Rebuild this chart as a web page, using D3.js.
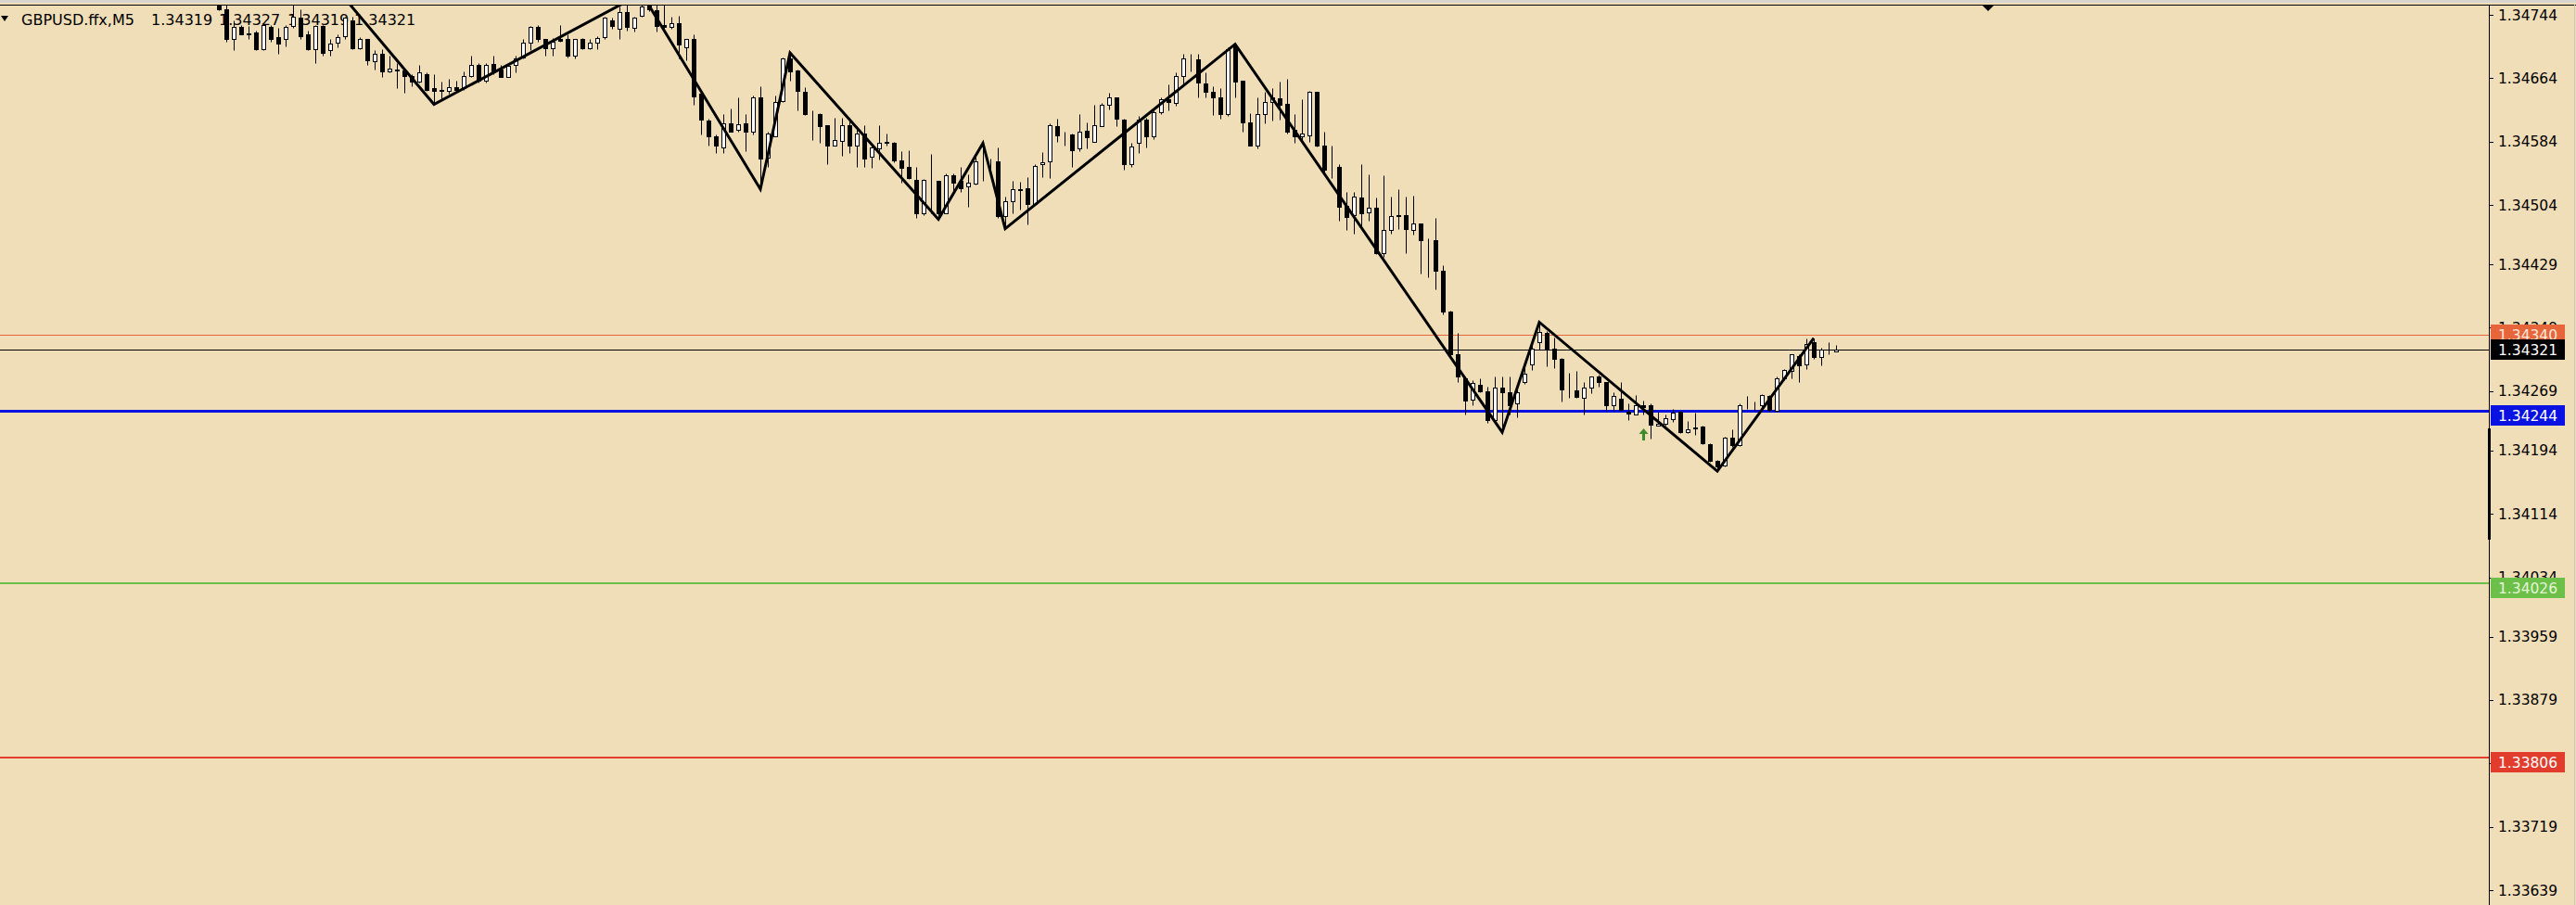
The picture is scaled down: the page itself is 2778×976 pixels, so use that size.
<!DOCTYPE html>
<html><head><meta charset="utf-8">
<script src="https://cdn.jsdelivr.net/npm/d3@7"></script>
<style>html,body{margin:0;padding:0;background:#F0DEB8;overflow:hidden}</style>
</head><body><svg id="c" width="2778" height="976"></svg>
<script>
const symbolTitle = "GBPUSD.ffx,M5";
const headerValues = ["1.34319","1.34327","1.34319","1.34321"];
const tickValues = [1.34744,1.34664,1.34584,1.34504,1.34429,1.34349,1.34269,1.34194,1.34114,1.34034,1.33959,1.33879,1.33799,1.33719,1.33639];

const open = [1.34761,1.34751,1.34713,1.34729,1.34721,1.34722,1.34701,1.34729,1.34716,1.34713,1.34730,1.34740,1.34719,1.34701,1.34730,1.34699,1.34709,1.34717,1.34737,1.34702,
1.34713,1.34685,1.34695,1.34673,1.34675,1.34674,1.34667,1.34660,1.34669,1.34652,1.34649,1.34648,1.34653,1.34652,1.34667,1.34681,1.34661,1.34682,1.34675,1.34666,
1.34681,1.34690,1.34709,1.34729,1.34713,1.34702,1.34713,1.34713,1.34692,1.34713,1.34702,1.34709,1.34716,1.34737,1.34726,1.34747,1.34728,1.34743,1.34756,1.34750,
1.34731,1.34729,1.34733,1.34703,1.34713,1.34644,1.34611,1.34591,1.34577,1.34607,1.34599,1.34607,1.34597,1.34640,1.34564,1.34591,1.34635,1.34689,1.34674,1.34647,
1.34618,1.34619,1.34605,1.34579,1.34585,1.34605,1.34579,1.34594,1.34565,1.34576,1.34584,1.34583,1.34560,1.34552,1.34536,1.34493,1.34536,1.34535,1.34494,1.34541,
1.34534,1.34527,1.34531,1.34558,1.34558,1.34559,1.34490,1.34509,1.34524,1.34525,1.34505,1.34555,1.34559,1.34604,1.34592,1.34593,1.34575,1.34598,1.34584,1.34604,
1.34630,1.34640,1.34612,1.34555,1.34583,1.34612,1.34591,1.34621,1.34638,1.34633,1.34667,1.34689,1.34688,1.34657,1.34647,1.34640,1.34619,1.34704,1.34661,1.34608,
1.34579,1.34619,1.34634,1.34639,1.34632,1.34599,1.34591,1.34592,1.34647,1.34579,1.34550,1.34552,1.34503,1.34491,1.34513,1.34495,1.34500,1.34443,1.34472,1.34490,
1.34491,1.34473,1.34481,1.34461,1.34460,1.34421,1.34370,1.34315,1.34285,1.34258,1.34277,1.34269,1.34233,1.34273,1.34268,1.34254,1.34280,1.34303,1.34331,1.34343,
1.34323,1.34310,1.34273,1.34270,1.34261,1.34274,1.34288,1.34280,1.34251,1.34259,1.34243,1.34240,1.34251,1.34251,1.34226,1.34228,1.34234,1.34243,1.34217,1.34223,
1.34224,1.34202,1.34181,1.34175,1.34210,1.34201,1.34251,1.34251,1.34251,1.34263,1.34244,1.34285,1.34295,1.34313,1.34303,1.34331,1.34312,1.34322,1.34319];

const high = [1.34767,1.34757,1.34737,1.34731,1.34730,1.34724,1.34734,1.34731,1.34728,1.34731,1.34763,1.34751,1.34724,1.34731,1.34731,1.34713,1.34720,1.34742,1.34742,1.34716,
1.34714,1.34699,1.34701,1.34693,1.34683,1.34675,1.34669,1.34681,1.34672,1.34669,1.34660,1.34663,1.34661,1.34673,1.34692,1.34683,1.34683,1.34692,1.34681,1.34683,
1.34692,1.34713,1.34730,1.34731,1.34714,1.34715,1.34731,1.34719,1.34714,1.34715,1.34714,1.34717,1.34742,1.34741,1.34754,1.34757,1.34742,1.34771,1.34758,1.34757,
1.34757,1.34742,1.34743,1.34714,1.34720,1.34646,1.34613,1.34593,1.34619,1.34626,1.34640,1.34619,1.34642,1.34654,1.34596,1.34642,1.34690,1.34696,1.34675,1.34653,
1.34623,1.34620,1.34605,1.34614,1.34614,1.34611,1.34603,1.34605,1.34579,1.34605,1.34594,1.34584,1.34572,1.34573,1.34552,1.34537,1.34568,1.34535,1.34544,1.34544,
1.34552,1.34543,1.34570,1.34582,1.34562,1.34577,1.34514,1.34534,1.34533,1.34539,1.34555,1.34571,1.34607,1.34613,1.34597,1.34594,1.34619,1.34608,1.34631,1.34633,
1.34646,1.34640,1.34613,1.34582,1.34616,1.34614,1.34625,1.34640,1.34656,1.34671,1.34695,1.34695,1.34695,1.34671,1.34654,1.34652,1.34703,1.34707,1.34661,1.34620,
1.34640,1.34647,1.34652,1.34660,1.34663,1.34619,1.34638,1.34648,1.34647,1.34596,1.34579,1.34555,1.34521,1.34520,1.34556,1.34543,1.34513,1.34542,1.34514,1.34524,
1.34515,1.34516,1.34481,1.34462,1.34488,1.34428,1.34371,1.34342,1.34287,1.34283,1.34285,1.34275,1.34287,1.34287,1.34287,1.34277,1.34306,1.34330,1.34356,1.34345,
1.34337,1.34311,1.34292,1.34295,1.34280,1.34288,1.34290,1.34281,1.34268,1.34280,1.34253,1.34264,1.34257,1.34253,1.34243,1.34240,1.34246,1.34244,1.34231,1.34242,
1.34226,1.34203,1.34182,1.34211,1.34221,1.34253,1.34263,1.34256,1.34265,1.34264,1.34287,1.34297,1.34315,1.34315,1.34335,1.34336,1.34324,1.34331,1.34327];

const low = [1.34750,1.34710,1.34699,1.34719,1.34713,1.34700,1.34700,1.34710,1.34695,1.34704,1.34728,1.34714,1.34699,1.34683,1.34693,1.34693,1.34703,1.34714,1.34701,1.34701,
1.34681,1.34675,1.34665,1.34671,1.34652,1.34646,1.34654,1.34658,1.34648,1.34631,1.34638,1.34644,1.34648,1.34649,1.34666,1.34659,1.34659,1.34669,1.34665,1.34665,
1.34671,1.34689,1.34699,1.34710,1.34693,1.34693,1.34710,1.34690,1.34689,1.34701,1.34701,1.34701,1.34713,1.34726,1.34713,1.34724,1.34723,1.34742,1.34749,1.34723,
1.34726,1.34726,1.34689,1.34687,1.34631,1.34593,1.34579,1.34570,1.34570,1.34596,1.34597,1.34572,1.34593,1.34524,1.34552,1.34591,1.34634,1.34661,1.34623,1.34617,
1.34586,1.34583,1.34556,1.34579,1.34566,1.34570,1.34552,1.34552,1.34551,1.34561,1.34579,1.34558,1.34532,1.34537,1.34488,1.34491,1.34494,1.34486,1.34493,1.34517,
1.34520,1.34502,1.34530,1.34535,1.34550,1.34488,1.34474,1.34493,1.34498,1.34479,1.34504,1.34539,1.34538,1.34584,1.34579,1.34552,1.34572,1.34576,1.34584,1.34603,
1.34625,1.34603,1.34549,1.34552,1.34570,1.34577,1.34587,1.34619,1.34624,1.34629,1.34655,1.34673,1.34640,1.34640,1.34618,1.34613,1.34616,1.34640,1.34596,1.34579,
1.34575,1.34607,1.34611,1.34612,1.34594,1.34582,1.34584,1.34584,1.34578,1.34544,1.34538,1.34484,1.34473,1.34468,1.34476,1.34484,1.34442,1.34439,1.34468,1.34474,
1.34443,1.34467,1.34418,1.34413,1.34397,1.34366,1.34315,1.34280,1.34240,1.34251,1.34268,1.34229,1.34233,1.34217,1.34239,1.34236,1.34278,1.34296,1.34322,1.34300,
1.34298,1.34256,1.34261,1.34261,1.34240,1.34267,1.34275,1.34244,1.34244,1.34244,1.34232,1.34239,1.34240,1.34209,1.34225,1.34226,1.34230,1.34216,1.34216,1.34214,
1.34202,1.34180,1.34168,1.34174,1.34199,1.34200,1.34246,1.34244,1.34248,1.34243,1.34243,1.34283,1.34285,1.34280,1.34297,1.34310,1.34302,1.34315,1.34319];

const close = [1.34751,1.34713,1.34729,1.34720,1.34720,1.34701,1.34731,1.34713,1.34708,1.34729,1.34742,1.34717,1.34701,1.34730,1.34696,1.34708,1.34716,1.34740,1.34702,1.34713,
1.34687,1.34695,1.34673,1.34676,1.34674,1.34667,1.34660,1.34672,1.34649,1.34648,1.34648,1.34653,1.34649,1.34667,1.34681,1.34661,1.34681,1.34673,1.34666,1.34680,
1.34689,1.34709,1.34729,1.34713,1.34702,1.34710,1.34711,1.34692,1.34713,1.34702,1.34709,1.34715,1.34740,1.34730,1.34748,1.34729,1.34741,1.34754,1.34751,1.34730,
1.34729,1.34734,1.34707,1.34713,1.34641,1.34612,1.34591,1.34579,1.34607,1.34597,1.34606,1.34596,1.34640,1.34563,1.34594,1.34634,1.34689,1.34673,1.34648,1.34619,
1.34617,1.34604,1.34579,1.34586,1.34605,1.34579,1.34594,1.34563,1.34577,1.34583,1.34582,1.34560,1.34551,1.34538,1.34494,1.34536,1.34536,1.34494,1.34542,1.34532,
1.34525,1.34532,1.34559,1.34558,1.34558,1.34490,1.34509,1.34524,1.34523,1.34505,1.34553,1.34558,1.34605,1.34592,1.34592,1.34573,1.34597,1.34589,1.34605,1.34631,
1.34640,1.34613,1.34555,1.34578,1.34612,1.34591,1.34621,1.34638,1.34634,1.34667,1.34689,1.34689,1.34658,1.34647,1.34640,1.34619,1.34701,1.34660,1.34608,1.34579,
1.34619,1.34634,1.34640,1.34631,1.34597,1.34591,1.34594,1.34647,1.34579,1.34549,1.34550,1.34502,1.34489,1.34515,1.34493,1.34501,1.34443,1.34472,1.34490,1.34491,
1.34474,1.34481,1.34460,1.34461,1.34421,1.34369,1.34316,1.34287,1.34257,1.34279,1.34269,1.34233,1.34274,1.34268,1.34251,1.34268,1.34291,1.34323,1.34344,1.34322,
1.34310,1.34271,1.34273,1.34262,1.34273,1.34287,1.34280,1.34251,1.34263,1.34245,1.34241,1.34251,1.34249,1.34227,1.34228,1.34235,1.34242,1.34217,1.34221,1.34222,
1.34203,1.34181,1.34174,1.34210,1.34201,1.34251,1.34251,1.34251,1.34264,1.34245,1.34285,1.34296,1.34315,1.34302,1.34329,1.34312,1.34322,1.34322,1.34321];

const zigzagIndex = [-3,29,57,73,77,97,103,106,137,173,178,202,215];
const zigzagPrice = [1.34987,1.34631,1.34771,1.34524,1.34696,1.34486,1.34582,1.34474,1.34707,1.34217,1.34356,1.34168,1.34336];

const levelPrices = [1.34340,1.34321,1.34244,1.34026,1.33806];
const signalIndex = [192];
const signalPrice = [1.34222];

// ---- styles / layout ----
const W = 2778, H = 976, plotR = 2684, plotT = 5;
const levelColors = ["#E6653A","#000000","#0A12E2","#6CC04A","#E23C2C"];
const levelWidths = [1, 1, 3, 2, 2];
const levelBoxShift = [0, 0, 5, 5, 5];
const levelTextColors = ["#FFE8DC","#FFFFFF","#FFFFFF","#E4F4D6","#FFFFFF"];
const headerX = [23, 163, 236, 310, 382];

const svg = d3.select("#c");
const x = d3.scaleLinear().domain([0, 218]).range([236, 1980]);
const y = d3.scaleLinear().domain([1.33639, 1.34744]).range([960, 16]);

svg.append("rect").attr("width", W).attr("height", H).attr("fill", "#F0DEB8");
svg.append("defs").append("clipPath").attr("id", "plot")
  .append("rect").attr("x", 0).attr("y", plotT + 0.5).attr("width", plotR).attr("height", H - plotT);

// header
const hdr = svg.append("g").attr("font-family", "DejaVu Sans, Verdana, sans-serif").attr("font-size", 16).attr("fill", "#000");
hdr.append("path").attr("d", "M1,17 L9,17 L5,23 Z").attr("fill", "#000");
hdr.selectAll("text.h").data([symbolTitle].concat(headerValues)).join("text")
  .attr("class", "h").attr("x", (d, i) => headerX[i]).attr("y", 27).text(d => d);

const plot = svg.append("g").attr("clip-path", "url(#plot)");

// level lines
levelPrices.forEach((p, i) => {
  const yy = Math.round(y(p)) + (levelWidths[i] % 2 ? 0.5 : 0);
  plot.append("line").attr("x1", 0).attr("x2", plotR).attr("y1", yy).attr("y2", yy)
    .attr("stroke", levelColors[i]).attr("stroke-width", levelWidths[i]);
});

// candles
const idx = d3.range(open.length);
const cx = i => Math.round(x(i)) + 0.5;
plot.append("g").selectAll("line").data(idx).join("line")
  .attr("x1", cx).attr("x2", cx)
  .attr("y1", i => Math.round(y(high[i])) + 0.5).attr("y2", i => Math.round(y(low[i])) + 0.5)
  .attr("stroke", "#000").attr("stroke-width", 1);
plot.append("g").selectAll("rect").data(idx).join("rect")
  .attr("x", i => cx(i) - 2)
  .attr("y", i => Math.round(y(Math.max(open[i], close[i]))) + 0.5)
  .attr("width", 4)
  .attr("height", i => Math.max(0, Math.round(y(Math.min(open[i], close[i]))) - Math.round(y(Math.max(open[i], close[i])))))
  .attr("fill", i => close[i] >= open[i] ? "#FFFFFF" : "#000000")
  .attr("stroke", "#000").attr("stroke-width", 1);

// zigzag
const zz = zigzagIndex.map((k, i) => [x(k), y(zigzagPrice[i])]);
plot.append("path").attr("d", d3.line()(zz)).attr("fill", "none")
  .attr("stroke", "#000").attr("stroke-width", 3).attr("stroke-linejoin", "miter");

// signal arrow
signalIndex.forEach((k, i) => {
  const ax = Math.round(x(k)) + 0.5, ay = y(signalPrice[i]);
  plot.append("path")
    .attr("d", `M${ax},${ay} L${ax + 5},${ay + 6} L${ax + 1.5},${ay + 6} L${ax + 1.5},${ay + 13} L${ax - 1.5},${ay + 13} L${ax - 1.5},${ay + 6} L${ax - 5},${ay + 6} Z`)
    .attr("fill", "#3D8B2A");
});

// frame
svg.append("rect").attr("x", 0).attr("y", 0).attr("width", W).attr("height", 3).attr("fill", "#D9D6CF");
svg.append("line").attr("x1", 0).attr("x2", W).attr("y1", plotT + 0.5).attr("y2", plotT + 0.5).attr("stroke", "#000");
svg.append("line").attr("x1", plotR + 0.5).attr("x2", plotR + 0.5).attr("y1", plotT).attr("y2", H).attr("stroke", "#000");
svg.append("rect").attr("x", plotR - 1).attr("y", 462).attr("width", 3).attr("height", 120).attr("fill", "#000");
svg.append("line").attr("x1", W - 1.5).attr("x2", W - 1.5).attr("y1", plotT).attr("y2", H).attr("stroke", "#CFC7B4");
svg.append("path").attr("d", "M2137,5 L2151,5 L2144,12 Z").attr("fill", "#000");

// price axis
const axis = svg.append("g").attr("font-family", "DejaVu Sans, Verdana, sans-serif").attr("font-size", 15.5);
axis.selectAll("line.t").data(tickValues).join("line").attr("class", "t")
  .attr("x1", plotR).attr("x2", plotR + 5)
  .attr("y1", d => Math.round(y(d)) + 0.5).attr("y2", d => Math.round(y(d)) + 0.5).attr("stroke", "#000");
axis.selectAll("text.t").data(tickValues).join("text").attr("class", "t")
  .attr("x", 2694).attr("y", d => y(d) + 1).attr("dominant-baseline", "middle")
  .attr("fill", "#000").text(d => d.toFixed(5));

// level price boxes
levelPrices.forEach((p, i) => {
  const cy = Math.round(y(p)) + levelBoxShift[i];
  axis.append("rect").attr("x", plotR + 2).attr("y", cy - 11).attr("width", 80).attr("height", 22).attr("fill", levelColors[i]);
  axis.append("text").attr("x", 2694).attr("y", cy + 1).attr("dominant-baseline", "middle")
    .attr("fill", levelTextColors[i]).text(p.toFixed(5));
});
</script></body></html>
